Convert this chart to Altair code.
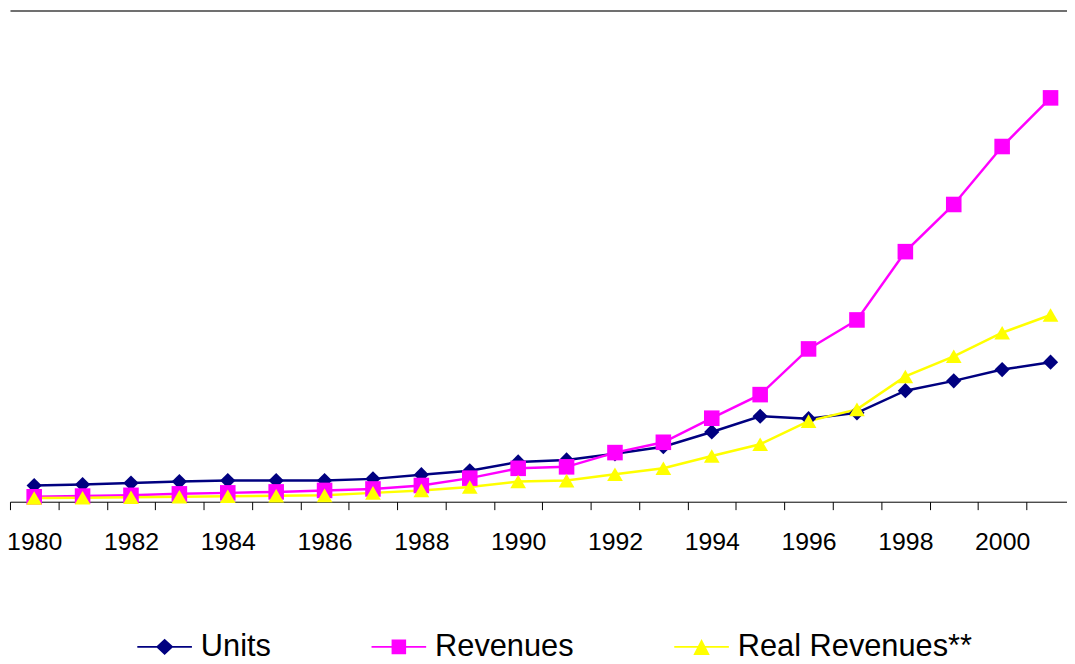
import altair as alt
import pandas as pd

# ---- data ----
years = list(range(1980, 2002))
units = [3.3, 3.5, 3.8, 4.1, 4.3, 4.3, 4.3, 4.65, 5.5, 6.3, 8.1, 8.5,
         9.75, 11.2, 14.2, 17.4, 16.9, 18.1, 22.6, 24.6, 26.9, 28.4]
revenues = [1.0, 1.15, 1.3, 1.6, 1.8, 2.0, 2.3, 2.6, 3.3, 4.8, 6.8, 7.1,
            10.0, 12.1, 17.0, 21.8, 31.1, 37.0, 50.9, 60.5, 72.3, 82.2]
real_revenues = [0.75, 0.8, 0.9, 1.0, 1.1, 1.2, 1.3, 1.8, 2.3, 3.0, 4.1, 4.3,
                 5.6, 6.8, 9.3, 11.7, 16.4, 18.8, 25.5, 29.6, 34.4, 38.0]
series_names = ["Units", "Revenues", "Real Revenues**"]

# ---- styles ----
series_colors = ["#000080", "#FF00FF", "#FFFF00"]
marker_shapes = ["diamond", "square", "triangle-up"]
marker_sizes = [235, 246, 250]
legend_paths = [
    "M-3.44,0H3.44M-0.92,0L0,-0.84L0.92,0L0,0.84Z",
    "M-3.44,0H3.44M-0.79,-0.79H0.79V0.79H-0.79Z",
    "M-3.44,0H3.44M0,-0.71L0.83,0.91L-0.83,0.91Z",
]
FONT = "Liberation Sans"

rows = []
for name, vals in zip(series_names, [units, revenues, real_revenues]):
    for yr, v in zip(years, vals):
        rows.append({"year": yr, "value": v, "series": name})
df = pd.DataFrame(rows)

x_scale = alt.Scale(domain=[1979.5, 2001.34], nice=False, zero=False)
y_scale = alt.Scale(domain=[0, 100], nice=False)
color_scale = alt.Scale(domain=series_names, range=series_colors)

base = alt.Chart(df)

x_bottom = alt.Axis(
    values=years, tickOffset=-24.38, labelOffset=24.38,
    labelExpr="datum.value % 2 == 0 ? datum.label : ''", format="d",
    title=None, grid=False, domainColor="black", domainWidth=1,
    tickColor="black", tickSize=8, tickWidth=1,
    labelFont=FONT, labelFontSize=25, labelColor="black", labelPadding=20,
    labelOverlap=False, labelFlush=False, labelBound=False,
)
y_left = alt.Axis(title=None, labels=False, ticks=False, grid=False,
                  domainColor="black", domainWidth=1)

line_layers = []
point_layers = []
for i, (name, col, shp, sz) in enumerate(zip(series_names, series_colors, marker_shapes, marker_sizes)):
    sub = base.transform_filter(alt.datum.series == name)
    line_layers.append(
        sub.mark_line(strokeWidth=2.5, color=col).encode(
            x=alt.X("year:Q", scale=x_scale, axis=x_bottom if i == 0 else None),
            y=alt.Y("value:Q", scale=y_scale, axis=y_left if i == 0 else None),
        )
    )
    point_layers.append(
        sub.mark_point(filled=True, opacity=1, shape=shp, size=sz, color=col).encode(
            x=alt.X("year:Q", scale=x_scale, axis=None),
            y=alt.Y("value:Q", scale=y_scale, axis=None),
        )
    )

leg = alt.Legend(
    title=None, orient="none", legendX=127.8, legendY=625.5,
    direction="horizontal", columns=3, columnPadding=96, padding=0,
    symbolSize=256, symbolStrokeWidth=2, symbolOffset=12.5, labelOffset=21,
    labelFont=FONT, labelFontSize=31, labelColor="black", labelLimit=400,
)

legend_layer = (
    base.transform_filter("false")
    .mark_point(filled=True, opacity=1)
    .encode(
        x=alt.X("year:Q", scale=x_scale,
                axis=alt.Axis(orient="top", labels=False, ticks=False, grid=False,
                              domainColor="#707070", domainWidth=2, title=None)),
        y=alt.Y("value:Q", scale=y_scale, axis=None),
        fill=alt.Fill("series:N", scale=color_scale, legend=leg),
        stroke=alt.Stroke("series:N", scale=color_scale, legend=leg),
        shape=alt.Shape("series:N", scale=alt.Scale(domain=series_names, range=legend_paths),
                        legend=leg),
    )
)

chart = (
    alt.layer(*line_layers, *point_layers, legend_layer)
    .resolve_axis(x="independent")
    .properties(
        width=1065, height=495,
        autosize=alt.AutoSizeParams(type="none"),
        padding={"left": 2, "top": 0, "right": 0, "bottom": 153},
    )
    .configure_view(stroke=None)
)

chart.save("out.html", embed_options={"renderer": "svg", "actions": False})
